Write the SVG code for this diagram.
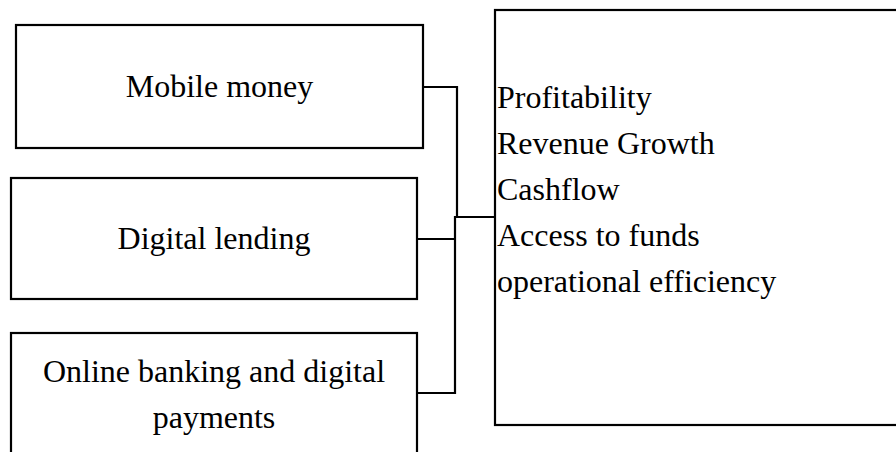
<svg xmlns="http://www.w3.org/2000/svg" width="896" height="452" viewBox="0 0 896 452">
  <style>
    .box { fill: #ffffff; stroke: #000000; stroke-width: 2.2; }
    .wire { fill: none; stroke: #000000; stroke-width: 2.2; }
    .lbl { font-family: "Liberation Serif", "Times New Roman", serif; font-size: 32px; fill: #000000; }
    .mid { text-anchor: middle; }
  </style>
  <rect width="896" height="452" fill="#ffffff"/>

  <g id="connectors">
    <polyline class="wire" points="423,87 457,87 457,217"/>
    <polyline class="wire" points="417,239 455,239"/>
    <polyline class="wire" points="417,393 455,393 455,217 495,217"/>
  </g>

  <g id="node-mobile-money">
    <rect class="box" x="16" y="25" width="407" height="123"/>
    <text class="lbl mid" x="219.5" y="97">Mobile money</text>
  </g>

  <g id="node-digital-lending">
    <rect class="box" x="11" y="178" width="406" height="121"/>
    <text class="lbl mid" x="214" y="249">Digital lending</text>
  </g>

  <g id="node-online-banking">
    <rect class="box" x="11" y="333" width="406" height="140"/>
    <text class="lbl mid" x="214" y="382">Online banking and digital</text>
    <text class="lbl mid" x="214" y="428">payments</text>
  </g>

  <g id="node-outcomes">
    <rect class="box" x="495" y="10" width="420" height="415"/>
    <text class="lbl" x="497" y="108">Profitability</text>
    <text class="lbl" x="497" y="154">Revenue Growth</text>
    <text class="lbl" x="497" y="200">Cashflow</text>
    <text class="lbl" x="497" y="246">Access to funds</text>
    <text class="lbl" x="497" y="292">operational efficiency</text>
  </g>
</svg>
